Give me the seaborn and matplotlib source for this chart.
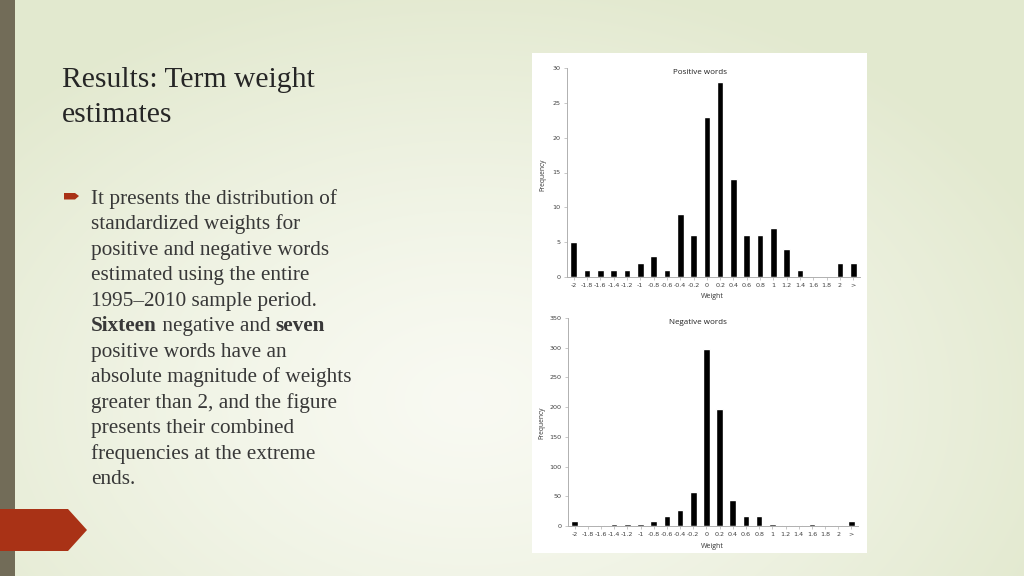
import numpy as np
import pandas as pd
import matplotlib
matplotlib.use("Agg")
import matplotlib.pyplot as plt
from matplotlib.patches import Rectangle, Polygon
import seaborn as sns

# ---------------- data ----------------
bins = ["-2", "-1.8", "-1.6", "-1.4", "-1.2", "-1", "-0.8", "-0.6", "-0.4", "-0.2",
        "0", "0.2", "0.4", "0.6", "0.8", "1", "1.2", "1.4", "1.6", "1.8", "2", ">"]
positive_freq = [5, 1, 1, 1, 1, 2, 3, 1, 9, 6, 23, 28, 14, 6, 6, 7, 4, 1, 0, 0, 2, 2]
negative_freq = [8, 0, 1, 3, 4, 3, 8, 16, 27, 58, 297, 197, 44, 16, 16, 4, 2, 1, 3, 2, 2, 8]
pos_yticks = [0, 5, 10, 15, 20, 25, 30]
neg_yticks = [0, 50, 100, 150, 200, 250, 300, 350]

title_lines = ["Results: Term weight", "estimates"]
bullet_lines = [
    [("It presents the distribution of", False)],
    [("standardized weights for", False)],
    [("positive and negative words", False)],
    [("estimated using the entire", False)],
    [("1995\u20132010 sample period.", False)],
    [("Sixteen", True), (" negative and ", False), ("seven", True)],
    [("positive words have an", False)],
    [("absolute magnitude of weights", False)],
    [("greater than 2, and the figure", False)],
    [("presents their combined", False)],
    [("frequencies at the extreme", False)],
    [("ends.", False)],
]

sns.set_theme(style="white")
plt.rcParams["font.family"] = ["DejaVu Sans"]

W, H = 1024, 576
fig = plt.figure(figsize=(W / 100, H / 100), dpi=100)

# ---------------- background ----------------
bg = fig.add_axes([0, 0, 1, 1])
bg.set_axis_off()
yy, xx = np.mgrid[0:H, 0:W]
cx, cy = 470.0, 400.0
d = np.sqrt(((xx - cx) / 620.0) ** 2 + ((yy - cy) / 420.0) ** 2)
t = np.clip(d, 0, 1) ** 1.3
c_center = np.array([0.975, 0.980, 0.950])
c_edge = np.array([0.890, 0.915, 0.815])
img = c_center[None, None, :] * (1 - t[..., None]) + c_edge[None, None, :] * t[..., None]
bg.imshow(img, extent=[0, W, H, 0], aspect="auto")
bg.set_xlim(0, W)
bg.set_ylim(H, 0)
# left dark bar
bg.add_patch(Rectangle((0, 0), 15, H, color="#726c58", lw=0))
# red pentagon
bg.add_patch(Polygon([[0, 509], [68, 509], [87, 530], [68, 551], [0, 551]],
                     closed=True, color="#a93216", lw=0))
# bullet marker
bg.add_patch(Polygon([[64, 193], [75, 193], [79, 196], [75, 199.5], [64, 199.5]],
                     closed=True, color="#a93216", lw=0))
# white chart panel
bg.add_patch(Rectangle((532, 53), 335, 500, color="white", lw=0))

# ---------------- slide text ----------------
serif = ["Liberation Serif", "DejaVu Serif"]
fig.text(62 / W, 1 - 87 / H, title_lines[0], family=serif, fontsize=21.3,
         color="#262626", va="baseline", ha="left")
fig.text(62 / W, 1 - 122 / H, title_lines[1], family=serif, fontsize=21.3,
         color="#262626", va="baseline", ha="left")

fig.canvas.draw()
renderer = fig.canvas.get_renderer()
y0 = 204.0
step = 25.45
for i, segs in enumerate(bullet_lines):
    x = 91.0
    yb = y0 + i * step
    for txt, bold in segs:
        tt = fig.text(x / W, 1 - yb / H, txt, family=serif, fontsize=15.3,
                      color="#383838", va="baseline", ha="left",
                      weight="bold" if bold else "normal")
        bb = tt.get_window_extent(renderer=renderer)
        x += bb.width

# ---------------- charts ----------------
def draw_hist(rect, values, yticks, title, title_xy, ylabel_xy, xlabel_xy):
    ax = fig.add_axes(rect)
    df = pd.DataFrame({"Weight": bins, "Frequency": values})
    sns.barplot(data=df, x="Weight", y="Frequency", color="black",
                width=0.5, saturation=1, ax=ax, order=bins)
    ax.set_facecolor("none")
    ax.set_xlim(-0.5, len(bins) - 0.5)
    ax.set_ylim(0, yticks[-1])
    ax.set_yticks(yticks)
    ax.set_yticklabels([str(v) for v in yticks])
    ax.set_xlabel("")
    ax.set_ylabel("")
    for s in ["top", "right"]:
        ax.spines[s].set_visible(False)
    for s in ["left", "bottom"]:
        ax.spines[s].set_color("#b0b0b0")
        ax.spines[s].set_linewidth(0.7)
    ax.tick_params(axis="both", labelsize=4.6, colors="#404040", length=0, pad=2.5)
    ax.tick_params(axis="y", left=True, length=2, width=0.5, color="#b0b0b0")
    ax.tick_params(axis="x", bottom=True, length=2, width=0.5, color="#b0b0b0", pad=2)
    fig.text(title_xy[0] / W, 1 - title_xy[1] / H, title, fontsize=5.8,
             family=["Open Sans", "DejaVu Sans"], color="#222222", ha="center", va="center")
    fig.text(ylabel_xy[0] / W, 1 - ylabel_xy[1] / H, "Frequency", fontsize=4.8,
             family=["Open Sans", "DejaVu Sans"], color="#333333", ha="center",
             va="center", rotation=90)
    fig.text(xlabel_xy[0] / W, 1 - xlabel_xy[1] / H, "Weight", fontsize=5.0,
             family=["Open Sans", "DejaVu Sans"], color="#333333", ha="center", va="center")
    return ax

draw_hist([567 / W, 1 - 277 / H, 293 / W, 209 / H], positive_freq, pos_yticks,
          "Positive words", (700, 72), (543, 175), (712, 296))
draw_hist([568 / W, 1 - 526 / H, 290 / W, 208 / H], negative_freq, neg_yticks,
          "Negative words", (698, 322), (542, 423), (712, 546))

fig.savefig("out.png", dpi=100)
